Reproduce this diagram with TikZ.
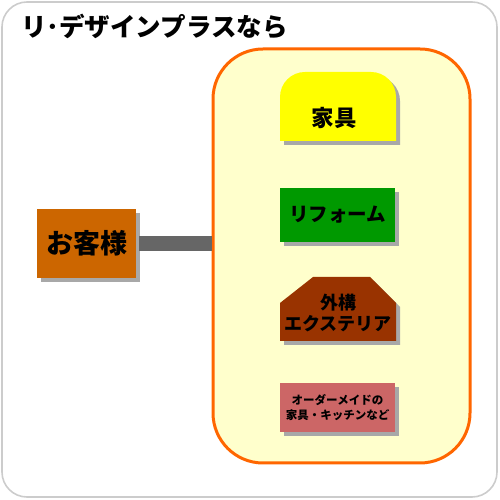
\documentclass[tikz,border=0pt]{standalone}
\usepackage{fontspec}
\usetikzlibrary{positioning,shadows}
\newfontfamily\jp{Noto Sans CJK JP Black}
\definecolor{frame}{HTML}{CCCCCC}
\definecolor{panel}{HTML}{FFFFCC}
\definecolor{rim}{HTML}{FF6600}
\definecolor{client}{HTML}{CC6600}
\definecolor{furniture}{HTML}{FFFF00}
\definecolor{reform}{HTML}{009900}
\definecolor{exterior}{HTML}{993300}
\definecolor{custom}{HTML}{CC6666}
\definecolor{link}{HTML}{666666}
\definecolor{shade}{HTML}{A8A8A8}
\tikzset{
  boxshadow/.style={drop shadow={shadow xshift=4pt,shadow yshift=-4pt,fill=shade,opacity=1}},
  menubox/.style={boxshadow,inner sep=0pt,align=center,text=black},
  itemtext/.style={inner sep=0pt,align=center,text=black},
}

\begin{document}
\begin{tikzpicture}[x=1pt,y=1pt]
\useasboundingbox (0,0) rectangle (500,500);
\draw[frame,line width=1.6pt,rounded corners=25pt] (2,3) rectangle (497,498);
\node[anchor=west,inner sep=0pt,font=\jp\fontsize{25.5}{30}\selectfont] (title) at (21,473) {リ･デザインプラスなら};
\node[draw=rim,fill=panel,line width=3pt,rounded corners=50pt,minimum width=257pt,minimum height=414pt] (panel) at (341.5,244) {};
\node[menubox,fill=client,minimum width=99pt,minimum height=69pt,font=\jp\fontsize{27}{32}\selectfont] (clientbox) at (86.5,256.5) {お客様};
\draw[link,line width=15pt] ([xshift=3pt]clientbox.east) -- (clientbox.east -| panel.west);
\fill[furniture,boxshadow] (280,359) -- (280,403) arc[start angle=180,end angle=90,radius=25] -- (371,428) arc[start angle=90,end angle=0,radius=25] -- (396,359) -- cycle;
\node[itemtext,font=\jp\fontsize{22.5}{26}\selectfont] (furniturebox) at (334,382) {家具};
\node[menubox,fill=reform,minimum width=115pt,minimum height=54pt,font=\jp\fontsize{19.5}{23}\selectfont] (reformbox) at (337.5,285) {リフォーム};
\fill[exterior,boxshadow] (280,159) -- (280,197) -- (313,223) -- (370,223) -- (396,197) -- (396,159) -- cycle;
\node[itemtext,font=\jp\fontsize{18}{20.5}\selectfont] (exteriorbox) at (338,187) {外構\\エクステリア};
\node[menubox,fill=custom,minimum width=115pt,minimum height=49pt,font=\jp\fontsize{11.5}{15}\selectfont] (custombox) at (337.5,92.5) {オーダーメイドの\\家具・キッチンなど};
\end{tikzpicture}
\end{document}
